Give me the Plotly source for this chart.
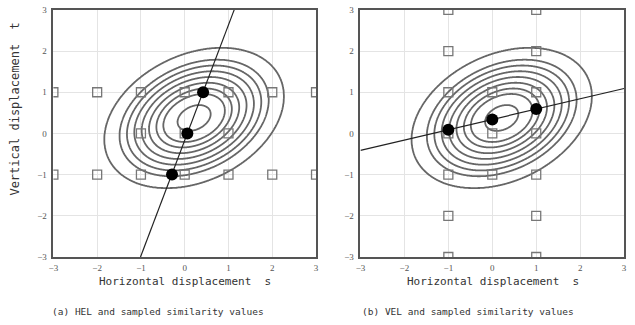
import numpy as np
import plotly.graph_objects as go

# ---- data ----
center_s, center_t = 0.215, 0.375          # peak of the similarity surface
quad_a, quad_b, quad_c = 1.0, -0.37, 1.45   # quadratic form coefficients
ring_levels = [0.36, 0.67, 0.82, 0.98, 1.14, 1.30, 1.46, 1.62, 1.95]

# sampled similarity positions (open squares)
hel_samples_s = [-3, -2, -1, 0, 1, 2, 3, -1, 0, 1, -3, -2, -1, 0, 1, 2, 3]
hel_samples_t = [1, 1, 1, 1, 1, 1, 1, 0, 0, 0, -1, -1, -1, -1, -1, -1, -1]
vel_samples_s = [-1, -1, -1, -1, -1, -1, -1, 0, 0, 0, 1, 1, 1, 1, 1, 1, 1]
vel_samples_t = [3, 2, 1, 0, -1, -2, -3, 1, 0, -1, 3, 2, 1, 0, -1, -2, -3]

# extreme points (filled dots)
hel_dots_s = [0.42, 0.06, -0.29]
hel_dots_t = [1, 0, -1]
vel_dots_s = [-1, 0, 1]
vel_dots_t = [0.09, 0.34, 0.59]

# extreme lines
hel_line_s = [-1.01, 1.13]
hel_line_t = [-3, 3]
vel_line_s = [-3, 3]
vel_line_t = [-0.41, 1.09]

tick_vals = [-3, -2, -1, 0, 1, 2, 3]
tick_text = ["\u22123", "\u22122", "\u22121", "0", "1", "2", "3"]

x_title = "Horizontal displacement  s"
y_title = "Vertical displacement  t"
caption_a = "(a) HEL and sampled similarity values"
caption_b = "(b) VEL and sampled similarity values"

# ---- surface ----
grid = np.linspace(-3, 3, 481)
S, T = np.meshgrid(grid, grid)
dS, dT = S - center_s, T - center_t
R = np.sqrt(quad_a * dS**2 + 2 * quad_b * dS * dT + quad_c * dT**2)
n_lv = len(ring_levels)
Z = np.interp(R, [0.0] + ring_levels + [ring_levels[-1] + 1.0],
              list(range(0, n_lv + 2)))

fig = go.Figure()
mono = "DejaVu Sans Mono"
for xa, ya in [("x", "y"), ("x2", "y2")]:
    fig.add_trace(go.Contour(
        x=grid, y=grid, z=Z, xaxis=xa, yaxis=ya,
        contours=dict(coloring="none", start=1, end=n_lv, size=1),
        line=dict(color="#666", width=1.8, smoothing=1.3), showscale=False,
        hoverinfo="skip"))

sq = dict(symbol="square-open", size=9, color="#777", line=dict(width=1.3))
fig.add_trace(go.Scatter(x=hel_samples_s, y=hel_samples_t, mode="markers",
                         marker=sq, xaxis="x", yaxis="y"))
fig.add_trace(go.Scatter(x=vel_samples_s, y=vel_samples_t, mode="markers",
                         marker=sq, xaxis="x2", yaxis="y2"))
fig.add_trace(go.Scatter(x=hel_line_s, y=hel_line_t, mode="lines",
                         line=dict(color="#222", width=1.2), xaxis="x", yaxis="y"))
fig.add_trace(go.Scatter(x=vel_line_s, y=vel_line_t, mode="lines",
                         line=dict(color="#222", width=1.2), xaxis="x2", yaxis="y2"))
fig.add_trace(go.Scatter(x=hel_dots_s, y=hel_dots_t, mode="markers",
                         marker=dict(size=12, color="#000"), xaxis="x", yaxis="y"))
fig.add_trace(go.Scatter(x=vel_dots_s, y=vel_dots_t, mode="markers",
                         marker=dict(size=12, color="#000"), xaxis="x2", yaxis="y2"))

axis_common = dict(range=[-3, 3], tickvals=tick_vals, ticktext=tick_text,
                   showgrid=True, gridcolor="#e4e4e4", gridwidth=1,
                   zeroline=False, showline=True, mirror=True,
                   linecolor="#555", linewidth=1.6, ticks="",
                   tickfont=dict(family="Liberation Serif", size=9, color="#555"))

ydom = [1 - 260 / 325, 1 - 5 / 325]
fig.update_layout(
    width=635, height=325, margin=dict(l=0, r=0, t=0, b=0),
    paper_bgcolor="white", plot_bgcolor="white", showlegend=False,
    xaxis=dict(domain=[49 / 635, 315 / 635], anchor="y", ticklabelstandoff=1, **axis_common),
    yaxis=dict(domain=ydom, anchor="x", ticklabelstandoff=3, **axis_common),
    xaxis2=dict(domain=[360 / 635, 627 / 635], anchor="y2", ticklabelstandoff=1, **axis_common),
    yaxis2=dict(domain=ydom, anchor="x2", ticklabelstandoff=3, **axis_common),
)

tfont = dict(family=mono, size=11, color="#333")
fig.add_annotation(text=x_title, x=182 / 635, y=1 - 285 / 325, xref="paper", yref="paper",
                   showarrow=False, font=tfont, xanchor="center", yanchor="middle")
fig.add_annotation(text=x_title, x=494 / 635, y=1 - 285 / 325, xref="paper", yref="paper",
                   showarrow=False, font=tfont, xanchor="center", yanchor="middle")
fig.add_annotation(text=y_title, x=10 / 635, y=1 - 107 / 325, xref="paper", yref="paper",
                   showarrow=False, font=dict(family=mono, size=12, color="#333"),
                   textangle=-90, xanchor="center", yanchor="middle")
cfont = dict(family=mono, size=9.5, color="#333")
fig.add_annotation(text=caption_a, x=155 / 635, y=1 - 316 / 325, xref="paper", yref="paper",
                   showarrow=False, font=cfont, xanchor="center", yanchor="middle")
fig.add_annotation(text=caption_b, x=469 / 635, y=1 - 316 / 325, xref="paper", yref="paper",
                   showarrow=False, font=cfont, xanchor="center", yanchor="middle")

fig.write_html("out.html")
